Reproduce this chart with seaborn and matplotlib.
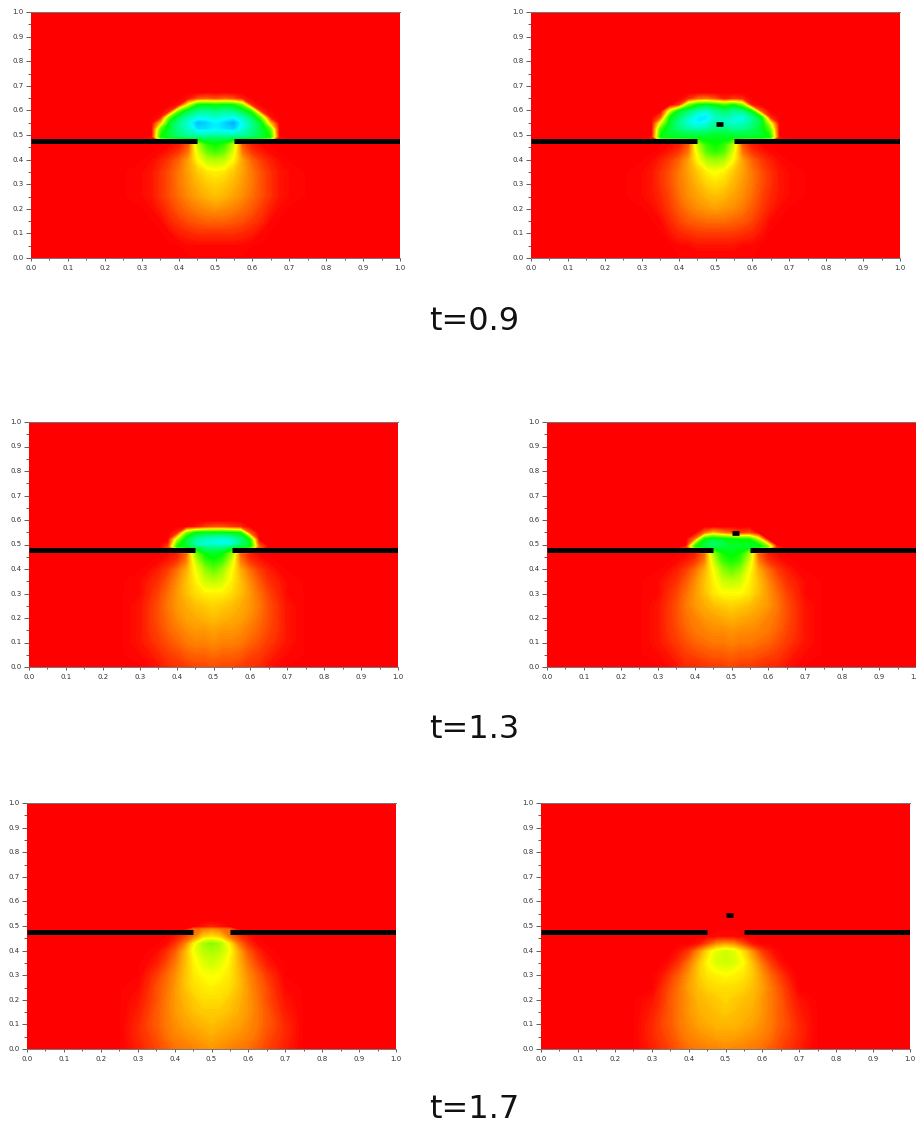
import pandas as pd
import matplotlib
matplotlib.use("Agg")
import matplotlib.pyplot as plt
from matplotlib.colors import LinearSegmentedColormap
import seaborn as sns

sns.set_theme(style="ticks")

# grid of the values (100 = red, 75 = yellow, 50 = green, 25 = cyan)
grid_x = [.25, .30, .325, .35, .375, .40, .425, .45, .475, .50, .525, .55, .575, .60, .625, .65, .675, .70, .75]
grid_y = [.675, .65, .625, .60, .575, .55, .525, .50, .49, .46, .43, .40, .35, .30, .25, .20, .15, .10, .05, .00]
far_field = [[100]]

field_09_left = [
    [100,100,100,100,100,100,100,100,100,100,100,100,100,100,100,100,100,100,100],
    [100,100,100,100,100,100,98,92,90,92,90,92,97,100,100,100,100,100,100],
    [100,100,100,100,100,98,72,50,48,50,48,50,62,96,100,100,100,100,100],
    [100,100,100,100,96,60,44,38,36,38,36,38,44,56,96,100,100,100,100],
    [100,100,100,98,60,42,34,28,28,30,28,26,32,42,62,98,100,100,100],
    [100,100,100,80,46,36,28,18,20,24,20,16,26,36,46,80,100,100,100],
    [100,100,100,58,44,36,30,22,22,24,22,20,28,36,44,58,100,100,100],
    [100,100,100,52,44,38,34,32,32,32,32,32,34,38,44,52,100,100,100],
    [100,100,98,50,44,40,38,38,38,40,38,38,38,40,44,50,98,100,100],
    [100,100,100,100,99,97,91,68,54,50,54,68,91,97,99,100,100,100,100],
    [100,100,100,99,97,94,88,72,60,56,60,72,88,94,97,99,100,100,100],
    [100,100,99,97,94,90,84,75,68,66,68,75,84,90,94,97,99,100,100],
    [100,99,98,95,92,88,84,80,77,76,77,80,84,88,92,95,98,99,100],
    [100,99,98,95,92,88,85,82,80,79,80,82,85,88,92,95,98,99,100],
    [100,99,98,95,92,89,86,84,82,81,82,84,86,89,92,95,98,99,100],
    [100,100,99,97,94,91,89,87,86,85,86,87,89,91,94,97,99,100,100],
    [100,100,100,99,96,94,92,91,90,90,90,91,92,94,96,99,100,100,100],
    [100,100,100,100,99,97,96,95,95,95,95,95,96,97,99,100,100,100,100],
    [100,100,100,100,100,100,99,99,99,99,99,99,99,100,100,100,100,100,100],
    [100,100,100,100,100,100,100,100,100,100,100,100,100,100,100,100,100,100,100],
]
field_09_right = [
    [100,100,100,100,100,100,100,100,100,100,100,100,100,100,100,100,100,100,100],
    [100,100,100,100,100,100,96,90,88,92,97,94,96,100,100,100,100,100,100],
    [100,100,100,100,100,94,62,50,46,50,56,50,62,98,100,100,100,100,100],
    [100,100,100,100,72,46,40,34,30,36,40,36,38,50,92,100,100,100,100],
    [100,100,100,92,50,40,32,24,22,30,34,30,28,36,48,96,100,100,100],
    [100,100,100,72,46,36,28,24,26,34,30,28,30,36,44,72,100,100,100],
    [100,100,100,56,44,38,34,32,34,38,38,36,36,40,46,60,100,100,100],
    [100,100,100,50,46,44,44,44,44,46,46,44,44,44,46,52,100,100,100],
    [100,100,98,48,46,46,46,46,46,48,46,46,46,46,46,50,98,100,100],
    [100,100,100,100,99,97,91,68,54,50,54,68,91,97,99,100,100,100,100],
    [100,100,100,99,97,94,88,72,58,54,58,72,88,94,97,99,100,100,100],
    [100,100,99,97,94,90,84,75,66,64,66,75,84,90,94,97,99,100,100],
    [100,99,98,95,92,88,84,80,76,74,76,80,84,88,92,95,98,99,100],
    [100,99,98,95,92,88,85,82,79,78,79,82,85,88,92,95,98,99,100],
    [100,99,98,96,93,89,86,84,82,81,82,84,86,89,93,96,98,99,100],
    [100,100,99,97,94,91,88,86,85,84,85,86,88,91,94,97,99,100,100],
    [100,100,100,99,96,93,91,90,89,89,89,90,91,93,96,99,100,100,100],
    [100,100,100,100,98,96,95,94,94,94,94,94,95,96,98,100,100,100,100],
    [100,100,100,100,100,99,99,98,98,98,98,98,99,99,100,100,100,100,100],
    [100,100,100,100,100,100,100,100,100,100,100,100,100,100,100,100,100,100,100],
]
field_13_left = [
    [100,100,100,100,100,100,100,100,100,100,100,100,100,100,100,100,100,100,100],
    [100,100,100,100,100,100,100,100,100,100,100,100,100,100,100,100,100,100,100],
    [100,100,100,100,100,100,100,100,100,100,100,100,100,100,100,100,100,100,100],
    [100,100,100,100,100,100,100,100,100,100,100,100,100,100,100,100,100,100,100],
    [100,100,100,100,100,100,100,98,94,92,92,94,96,100,100,100,100,100,100],
    [100,100,100,100,100,96,62,48,46,46,46,48,50,90,100,100,100,100,100],
    [100,100,100,100,100,70,46,36,32,30,28,30,38,52,100,100,100,100,100],
    [100,100,100,100,96,54,44,32,28,28,26,28,38,46,92,100,100,100,100],
    [100,100,100,100,92,50,46,40,36,36,36,40,44,48,88,100,100,100,100],
    [100,100,100,100,99,97,90,64,50,46,50,64,90,97,99,100,100,100,100],
    [100,100,100,99,97,94,87,70,56,52,56,70,87,94,97,99,100,100,100],
    [100,100,99,97,94,89,83,74,64,58,64,74,83,89,94,97,99,100,100],
    [100,99,97,95,91,86,81,76,70,68,70,76,81,86,91,95,97,99,100],
    [100,99,96,93,89,85,81,78,76,76,76,78,81,85,89,93,96,99,100],
    [100,98,95,92,88,85,83,81,80,79,80,81,83,85,88,92,95,98,100],
    [100,98,95,92,89,86,84,83,82,81,82,83,84,86,89,92,95,98,100],
    [100,98,95,93,90,88,86,85,85,84,85,85,86,88,90,93,95,98,100],
    [100,98,96,94,92,90,88,87,87,86,87,87,88,90,92,94,96,98,100],
    [100,99,98,96,94,93,91,90,90,89,90,90,91,93,94,96,98,99,100],
    [100,100,99,98,96,95,94,93,93,92,93,93,94,95,96,98,99,100,100],
]
field_13_right = [
    [100,100,100,100,100,100,100,100,100,100,100,100,100,100,100,100,100,100,100],
    [100,100,100,100,100,100,100,100,100,100,100,100,100,100,100,100,100,100,100],
    [100,100,100,100,100,100,100,100,100,100,100,100,100,100,100,100,100,100,100],
    [100,100,100,100,100,100,100,100,100,100,100,100,100,100,100,100,100,100,100],
    [100,100,100,100,100,100,100,100,100,100,100,100,100,100,100,100,100,100,100],
    [100,100,100,100,100,100,90,80,86,90,94,92,100,100,100,100,100,100,100],
    [100,100,100,100,100,88,50,44,46,50,52,52,70,100,100,100,100,100,100],
    [100,100,100,100,100,56,44,38,42,46,46,44,48,66,100,100,100,100,100],
    [100,100,100,100,94,50,44,42,44,46,46,46,48,58,96,100,100,100,100],
    [100,100,100,100,99,97,90,66,52,48,52,66,90,97,99,100,100,100,100],
    [100,100,100,99,97,94,87,70,56,52,56,70,87,94,97,99,100,100,100],
    [100,100,99,97,94,89,83,74,63,58,63,74,83,89,94,97,99,100,100],
    [100,99,97,95,91,86,81,76,70,68,70,76,81,86,91,95,97,99,100],
    [100,99,96,93,89,85,81,77,75,75,75,77,81,85,89,93,96,99,100],
    [100,98,95,92,88,85,83,81,80,79,80,81,83,85,88,92,95,98,100],
    [100,98,95,92,89,87,85,84,83,82,83,84,85,87,89,92,95,98,100],
    [100,98,95,93,90,88,87,86,86,85,86,86,87,88,90,93,95,98,100],
    [100,98,96,94,92,90,89,88,88,87,88,88,89,90,92,94,96,98,100],
    [100,99,98,96,94,93,92,91,91,90,91,91,92,93,94,96,98,99,100],
    [100,100,99,98,96,96,95,94,94,93,94,94,95,96,96,98,99,100,100],
]
field_17_left = [
    [100,100,100,100,100,100,100,100,100,100,100,100,100,100,100,100,100,100,100],
    [100,100,100,100,100,100,100,100,100,100,100,100,100,100,100,100,100,100,100],
    [100,100,100,100,100,100,100,100,100,100,100,100,100,100,100,100,100,100,100],
    [100,100,100,100,100,100,100,100,100,100,100,100,100,100,100,100,100,100,100],
    [100,100,100,100,100,100,100,100,100,100,100,100,100,100,100,100,100,100,100],
    [100,100,100,100,100,100,100,100,100,100,100,100,100,100,100,100,100,100,100],
    [100,100,100,100,100,100,100,100,100,100,100,100,100,100,100,100,100,100,100],
    [100,100,100,100,100,100,100,100,98,96,98,100,100,100,100,100,100,100,100],
    [100,100,100,100,100,100,100,90,88,86,88,90,100,100,100,100,100,100,100],
    [100,100,100,100,100,98,94,88,80,78,80,88,94,98,100,100,100,100,100],
    [100,100,100,100,99,95,88,76,66,62,66,76,88,95,99,100,100,100,100],
    [100,100,100,99,96,91,83,74,68,66,68,74,83,91,96,99,100,100,100],
    [100,100,99,97,93,88,82,76,72,70,72,76,82,88,93,97,99,100,100],
    [100,100,97,94,90,86,81,77,75,74,75,77,81,86,90,94,97,100,100],
    [100,99,96,92,89,85,81,78,77,76,77,78,81,85,89,92,96,99,100],
    [100,98,95,92,88,85,82,80,78,78,78,80,82,85,88,92,95,98,100],
    [100,97,94,91,88,85,83,81,80,80,80,81,83,85,88,91,94,97,100],
    [100,96,93,91,88,86,84,83,82,81,82,83,84,86,88,91,93,96,100],
    [100,96,94,92,89,87,86,85,84,83,84,85,86,87,89,92,94,96,100],
    [100,97,95,93,91,89,88,87,86,85,86,87,88,89,91,93,95,97,100],
]
field_17_right = [
    [100,100,100,100,100,100,100,100,100,100,100,100,100,100,100,100,100,100,100],
    [100,100,100,100,100,100,100,100,100,100,100,100,100,100,100,100,100,100,100],
    [100,100,100,100,100,100,100,100,100,100,100,100,100,100,100,100,100,100,100],
    [100,100,100,100,100,100,100,100,100,100,100,100,100,100,100,100,100,100,100],
    [100,100,100,100,100,100,100,100,100,100,100,100,100,100,100,100,100,100,100],
    [100,100,100,100,100,100,100,100,100,100,100,100,100,100,100,100,100,100,100],
    [100,100,100,100,100,100,100,100,100,100,100,100,100,100,100,100,100,100,100],
    [100,100,100,100,100,100,100,100,100,100,100,100,100,100,100,100,100,100,100],
    [100,100,100,100,100,100,100,100,100,100,100,100,100,100,100,100,100,100,100],
    [100,100,100,100,100,100,100,100,99,99,99,100,100,100,100,100,100,100,100],
    [100,100,100,100,100,100,98,92,86,84,86,92,98,100,100,100,100,100,100],
    [100,100,100,100,98,94,86,78,72,70,72,78,86,94,98,100,100,100,100],
    [100,100,100,98,94,88,81,75,71,70,71,75,81,88,94,98,100,100,100],
    [100,100,98,94,90,85,80,77,76,75,76,77,80,85,90,94,98,100,100],
    [100,100,96,92,88,84,81,79,78,78,78,79,81,84,88,92,96,100,100],
    [100,98,95,91,88,85,82,81,80,79,80,81,82,85,88,91,95,98,100],
    [100,97,94,91,88,85,83,82,81,80,81,82,83,85,88,91,94,97,100],
    [100,96,93,91,88,86,84,83,82,82,82,83,84,86,88,91,93,96,100],
    [100,96,94,92,89,87,86,85,84,84,84,85,86,87,89,92,94,96,100],
    [100,97,95,93,91,89,88,87,87,86,87,87,88,89,91,93,95,97,100],
]

times = ["t=0.9", "t=1.3", "t=1.7"]
wall_left = [0.0, 0.45]
wall_right = [0.55, 1.0]
wall_y = 0.476
block_x = [0.50, 0.52]
block_y = 0.545
tick_values = [0.0, 0.1, 0.2, 0.3, 0.4, 0.5, 0.6, 0.7, 0.8, 0.9, 1.0]
minor_values = [0.05, 0.15, 0.25, 0.35, 0.45, 0.55, 0.65, 0.75, 0.85, 0.95]

W, H = 916, 1124
# left, right, top, bottom in pixels, field, obstacle
panels = [
    (31, 400, 12, 258, field_09_left, False),
    (531, 900, 12, 258, field_09_right, True),
    (29, 398, 422, 667, field_13_left, False),
    (547, 916, 422, 667, field_13_right, True),
    (27, 396, 803, 1049, field_17_left, False),
    (541, 910, 803, 1049, field_17_right, True),
]
title_pos = [(474, 321), (474, 729), (474, 1110)]

cmap = LinearSegmentedColormap.from_list(
    "flow", ["#0000ff", "#00ffff", "#00ff00", "#ffff00", "#ff0000"])
# half steps keep it smooth; the thin last band keeps the value 100 pure red like the heatmap under it
levels = [i / 2 for i in range(0, 199)] + [99.9, 100]

fig = plt.figure(figsize=(W / 100, H / 100), dpi=100)

for left, right, top, bottom, field, has_block in panels:
    ax = fig.add_axes([left / W, 1 - bottom / H, (right - left) / W, (bottom - top) / H])
    sns.heatmap(pd.DataFrame(far_field), ax=ax, cmap=cmap, vmin=0, vmax=100, cbar=False)
    ax.contourf(grid_x, grid_y, pd.DataFrame(field).values, levels=levels,
                cmap=cmap, vmin=0, vmax=100)
    ax.plot(wall_left, [wall_y, wall_y], color="black", lw=3.6, solid_capstyle="butt")
    ax.plot(wall_right, [wall_y, wall_y], color="black", lw=3.6, solid_capstyle="butt")
    if has_block:
        ax.plot(block_x, [block_y, block_y], color="black", lw=3.4, solid_capstyle="butt")
    ax.set_xlim(0, 1)
    ax.set_ylim(0, 1)
    ax.set_xticks(tick_values, [f"{v:.1f}" for v in tick_values])
    ax.set_yticks(tick_values, [f"{v:.1f}" for v in tick_values], rotation=0)
    ax.set_xticks(minor_values, minor=True)
    ax.set_yticks(minor_values, minor=True)
    ax.tick_params(which="major", width=0.6, color="#444444",
                   labelsize=5, labelcolor="#333333", pad=1.5)
    ax.tick_params(axis="x", which="major", length=2.4, pad=2.5)
    ax.tick_params(axis="y", which="major", length=3.6)
    ax.tick_params(axis="x", which="minor", length=1.6, width=0.6, color="#444444")
    ax.tick_params(axis="y", which="minor", length=2.2, width=0.6, color="#444444")
    ax.set_xlabel("")
    ax.set_ylabel("")
    for name in ["top", "bottom"]:
        ax.spines[name].set_visible(True)
        ax.spines[name].set_color("#777777")
        ax.spines[name].set_linewidth(0.7)
    for name in ["left", "right"]:
        ax.spines[name].set_visible(False)

for label, (px, py) in zip(times, title_pos):
    fig.text(px / W, 1 - py / H, label, ha="center", va="center", fontsize=23,
             color="#111111", family="DejaVu Sans")

fig.savefig("out.png", dpi=100)
